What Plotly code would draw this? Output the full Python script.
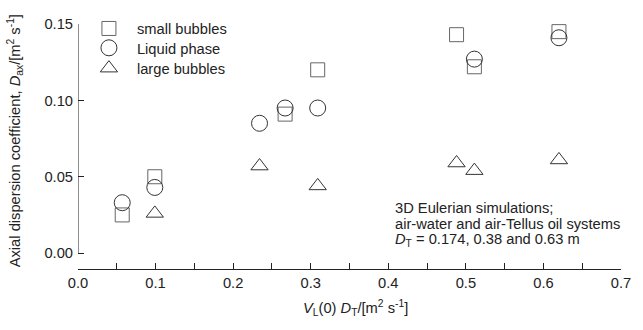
import plotly.graph_objects as go

# Axial dispersion coefficient vs. V_L(0)*D_T for the three phases
small_x = [0.057, 0.099, 0.267, 0.309, 0.488, 0.511, 0.620]
small_y = [0.025, 0.050, 0.091, 0.120, 0.143, 0.122, 0.145]

liquid_x = [0.057, 0.099, 0.234, 0.267, 0.309, 0.511, 0.620]
liquid_y = [0.033, 0.043, 0.085, 0.095, 0.095, 0.127, 0.141]

large_x = [0.099, 0.234, 0.309, 0.488, 0.511, 0.620]
large_y = [0.026, 0.057, 0.044, 0.059, 0.054, 0.061]

x_ticks = [0.0, 0.1, 0.2, 0.3, 0.4, 0.5, 0.6, 0.7]
y_ticks = [0.00, 0.05, 0.10, 0.15]

note_lines = [
    "3D Eulerian simulations;",
    "air-water and air-Tellus oil systems",
    "<i>D</i><sub>T</sub> = 0.174, 0.38 and 0.63 m",
]

FONT = "Liberation Sans, Arial, sans-serif"
FS = 14.7
INK = "#222222"

fig = go.Figure()
fig.add_trace(go.Scatter(
    x=small_x, y=small_y, mode="markers", name="small bubbles",
    legend="legend",
    marker=dict(symbol="square-open", size=14, color="#666666",
                line=dict(width=1, color="#666666")),
))
fig.add_trace(go.Scatter(
    x=liquid_x, y=liquid_y, mode="markers", name="Liquid phase",
    legend="legend2",
    marker=dict(symbol="circle-open", size=16, color="#333333",
                line=dict(width=1, color="#333333")),
))
fig.add_trace(go.Scatter(
    x=large_x, y=large_y, mode="markers", name="large bubbles",
    legend="legend3",
    marker=dict(symbol="triangle-up-open", size=15, color="#333333",
                line=dict(width=1, color="#333333")),
))

# y axis line only spans the labelled range (0 to 0.15)
fig.add_shape(type="line", xref="x", yref="y", x0=0, x1=0,
              y0=y_ticks[0], y1=y_ticks[-1],
              line=dict(color=INK, width=1))

fig.add_annotation(
    xref="paper", yref="paper", x=-0.1157, y=0.522,
    text="Axial dispersion coefficient, <i>D</i><sub>ax</sub>/[m<sup>2</sup> s<sup>-1</sup>]",
    textangle=-90, showarrow=False, xanchor="center", yanchor="middle",
    font=dict(family=FONT, size=FS, color=INK),
)
fig.add_annotation(
    xref="paper", yref="paper", x=0.511, y=-0.158,
    text="<i>V</i><sub>L</sub>(0) <i>D</i><sub>T</sub>/[m<sup>2</sup> s<sup>-1</sup>]",
    showarrow=False, xanchor="center", yanchor="middle",
    font=dict(family=FONT, size=FS, color=INK),
)
# simulation note, one annotation per line for tight line spacing
for line, ypos in zip(note_lines, [0.247, 0.182, 0.117]):
    fig.add_annotation(
        xref="paper", yref="paper", x=0.581, y=ypos,
        text=line, showarrow=False, xanchor="left", yanchor="middle",
        align="left", font=dict(family=FONT, size=FS, color=INK),
    )

legend_style = dict(x=0.0054, xanchor="left", yanchor="middle",
                    bgcolor="rgba(0,0,0,0)", borderwidth=0, itemwidth=46,
                    font=dict(family=FONT, size=FS, color=INK))

fig.update_layout(
    width=643, height=330,
    margin=dict(l=78, r=12, t=22, b=61),
    paper_bgcolor="white", plot_bgcolor="white",
    font=dict(family=FONT, size=FS, color=INK),
    showlegend=True,
    legend=dict(y=0.980, **legend_style),
    legend2=dict(y=0.901, **legend_style),
    legend3=dict(y=0.818, **legend_style),
    xaxis=dict(range=[0, 0.7], tickvals=x_ticks, tickformat=".1f",
               showgrid=False, zeroline=False,
               showline=True, linecolor=INK, linewidth=1,
               ticks="inside", ticklen=6, tickcolor=INK,
               minor=dict(dtick=0.05, ticks="inside", ticklen=6, tickcolor=INK),
               tickfont=dict(family=FONT, size=FS, color=INK)),
    yaxis=dict(range=[-0.0104, 0.15], tickvals=y_ticks, tickformat=".2f",
               showgrid=False, zeroline=False, showline=False,
               ticks="inside", ticklen=6, tickcolor=INK, ticklabelstandoff=4,
               tickfont=dict(family=FONT, size=FS, color=INK)),
)

fig.write_html("out.html")
